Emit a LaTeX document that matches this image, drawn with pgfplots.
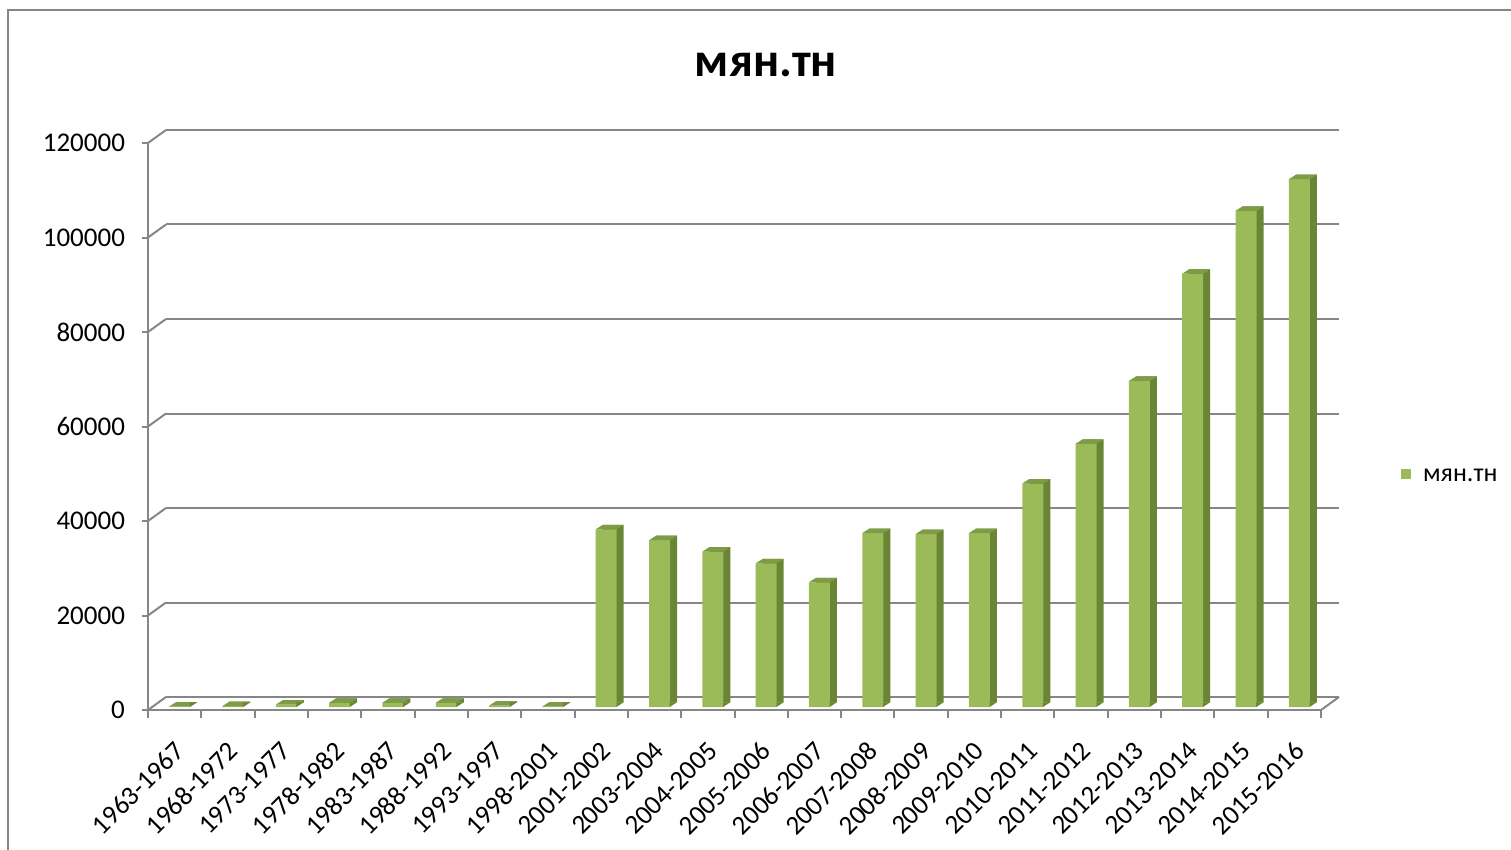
\documentclass[border=0pt]{standalone}
\usepackage{fontspec}
\setmainfont{Carlito}
\usepackage{pgfplots}
\usepackage{pgfplotstable}
\pgfplotsset{compat=1.18}
\definecolor{gridc}{HTML}{868686}
\definecolor{barfront}{HTML}{9BBB59}
\definecolor{barside}{HTML}{6A8535}
\definecolor{bartop}{HTML}{7E9B45}
\pgfplotstableread{
idx value
0 100
1 200
2 500
3 900
4 900
5 900
6 300
7 100
8 37600
9 35300
10 32900
11 30400
12 26400
13 36800
14 36600
15 36800
16 47300
17 55700
18 69000
19 91700
20 105000
21 111700
}\datatable
\pgfdeclareplotmark{topface}{%
  \pgfpathmoveto{\pgfpoint{-5.25pt}{0pt}}%
  \pgfpathlineto{\pgfpoint{5.25pt}{0pt}}%
  \pgfpathlineto{\pgfpoint{8.75pt}{2.25pt}}%
  \pgfpathlineto{\pgfpoint{-1.75pt}{2.25pt}}%
  \pgfpathclose\pgfusepath{fill}}
\pgfdeclareplotmark{sidefoot}{%
  \pgfpathmoveto{\pgfpoint{5.1pt}{0pt}}%
  \pgfpathlineto{\pgfpoint{8.75pt}{2.35pt}}%
  \pgfpathlineto{\pgfpoint{5.1pt}{2.35pt}}%
  \pgfpathclose\pgfusepath{fill}}
\begin{document}
\begin{tikzpicture}
\useasboundingbox (0,0) rectangle (755.5pt,-425pt);
\clip (0,0) rectangle (755.5pt,-425pt);
\draw[gridc, line width=1pt] (4pt,-5pt) rectangle (780pt,-450pt);
\node[font=\fontsize{24}{28}\selectfont\bfseries] at (383pt,-32.5pt) {мян.тн};
% back wall
\begin{axis}[
  at={(83pt,-348.5pt)}, anchor=south west,
  scale only axis, width=586.5pt, height=283.5pt,
  xmin=-0.5, xmax=21.5, ymin=0, ymax=120000,
  axis line style={draw=none},
  tick style={draw=none},
  xtick=\empty, ytick={0,20000,40000,60000,80000,100000,120000}, yticklabels={},
  scaled y ticks=false,
  major tick length=0pt,
  ymajorgrids, grid style={gridc, line width=1pt},
]
\addplot[draw=none, forget plot] coordinates {(0,0)};
\end{axis}
% front
\begin{axis}[
  at={(74pt,-355pt)}, anchor=south west,
  scale only axis, width=586.5pt, height=283.5pt,
  xmin=-0.5, xmax=21.5, ymin=0, ymax=120000,
  clip=false,
  axis x line*=bottom, axis y line*=left,
  axis line style={gridc, line width=1pt, -},
  tick style={gridc, line width=1pt},
  tick align=outside,
  major tick length=3pt, minor tick length=4pt,
  xtick={0,...,21},
  xticklabels={1963-1967,1968-1972,1973-1977,1978-1982,1983-1987,1988-1992,1993-1997,1998-2001,2001-2002,2003-2004,2004-2005,2005-2006,2006-2007,2007-2008,2008-2009,2009-2010,2010-2011,2011-2012,2012-2013,2013-2014,2014-2015,2015-2016},
  major x tick style={draw=none},
  minor xtick={-0.5,0.5,...,21.5},
  ytick={0,20000,40000,60000,80000,100000,120000},
  yticklabels={0,20000,40000,60000,80000,100000,120000},
  scaled y ticks=false,
  yticklabel style={font=\fontsize{13.5}{15}\selectfont, xshift=-5pt},
  xticklabel style={font=\fontsize{13.5}{15}\selectfont, rotate=45, anchor=north east, xshift=-5.5pt, yshift=-4.5pt},
  legend style={draw=none, fill=none, at={(1.068,0.411)}, anchor=west, inner sep=0pt,
    font=\fontsize{13}{15}\selectfont},
  legend cell align=left,
]
\addplot[ybar, bar width=10.5pt, bar shift=0pt, draw=none, fill=barside,
  xshift=6pt, yshift=3.75pt, forget plot] table[x=idx, y=value] {\datatable};
\addplot[ybar, bar width=10.5pt, bar shift=0pt, draw=none, fill=barfront,
  xshift=2.5pt, yshift=1.5pt,
  legend image code/.code={\fill[barfront] (0pt,-2.5pt) rectangle (5pt,2.5pt); \path (9pt,0pt);}]
  table[x=idx, y=value] {\datatable};
\addlegendentry{мян.тн}
\addplot[only marks, mark=topface, mark options={fill=bartop, draw=none},
  xshift=2.5pt, yshift=1.5pt, forget plot] table[x=idx, y=value] {\datatable};
\addplot[only marks, mark=sidefoot, mark options={fill=barside, draw=none},
  xshift=2.5pt, yshift=1.5pt, forget plot] table[x=idx, y expr=0] {\datatable};
\pgfplotsinvokeforeach{0,20000,40000,60000,80000,100000,120000}{
  \draw[gridc, line width=1pt] (axis cs:-0.5,#1) -- ++(9pt,6.5pt);
}
\draw[gridc, line width=1pt] (axis cs:21.5,0) -- ++(9pt,6.5pt);
\end{axis}
\end{tikzpicture}
\end{document}
